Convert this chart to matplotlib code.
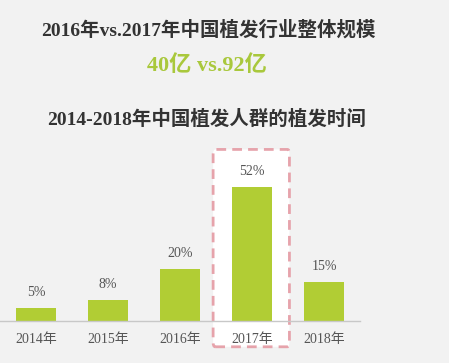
import matplotlib
matplotlib.use("Agg")
import matplotlib.pyplot as plt
from matplotlib.patches import FancyBboxPatch

# data
years = ["2014年", "2015年", "2016年", "2017年", "2018年"]
shares = [5, 8, 20, 52, 15]
value_labels = ["5%", "8%", "20%", "52%", "15%"]
highlight_idx = 3

title_top = "2016年vs.2017年中国植发行业整体规模"
title_mid = "40亿 vs.92亿"
title_chart = "2014-2018年中国植发人群的植发时间"

FONT = ["Liberation Serif", "Noto Sans CJK SC"]
BG = "#f2f2f2"
GREEN = "#b1cd34"

W, H = 449, 363
fig = plt.figure(figsize=(W / 100, H / 100), dpi=100)
fig.patch.set_facecolor(BG)

# axes: x 0..360 px, baseline at 321 px from top, 2.58 px per %
ax = fig.add_axes([0, 42 / H, 360 / W, 180.6 / H])
ax.set_facecolor("none")
ax.set_xlim(-0.5, 4.5)
ax.set_ylim(0, 70)

x = list(range(len(years)))

# highlight box behind the 2017 bar
box = FancyBboxPatch((highlight_idx - 0.54, -10.0), 1.06, 76.5,
                     boxstyle="round,pad=0,rounding_size=0.03",
                     facecolor="white", edgecolor="#e6a3ab",
                     linewidth=2.0, linestyle=(0, (3.5, 2.2)),
                     clip_on=False, zorder=0.5, mutation_aspect=70 / 1.2)
ax.add_patch(box)

ax.bar(x, shares, width=0.556, color=GREEN, zorder=2)
for xi, v, lab in zip(x, shares, value_labels):
    ax.text(xi, v + 6.0, lab, ha="center", va="center",
            fontsize=10, color="#555555", family=FONT)

for s in ("top", "right", "left"):
    ax.spines[s].set_visible(False)
ax.spines["bottom"].set_color("#c8c8c8")
ax.spines["bottom"].set_linewidth(1.0)
ax.set_yticks([])
ax.set_xticks(x)
ax.set_xticklabels(years, fontsize=10, color="#555555", family=FONT)
ax.tick_params(axis="x", length=0, pad=9)

fig.text(208 / W, 1 - 30 / H, title_top, ha="center", va="center",
         fontsize=14, fontweight="bold", color="#333333", family=FONT)
fig.text(207 / W, 1 - 66 / H, title_mid, ha="center", va="center",
         fontsize=16, fontweight="bold", color="#a9c83c", family=FONT)
fig.text(207 / W, 1 - 119 / H, title_chart, ha="center", va="center",
         fontsize=14, fontweight="bold", color="#333333", family=FONT)

fig.savefig("out.png", dpi=100, facecolor=BG)
